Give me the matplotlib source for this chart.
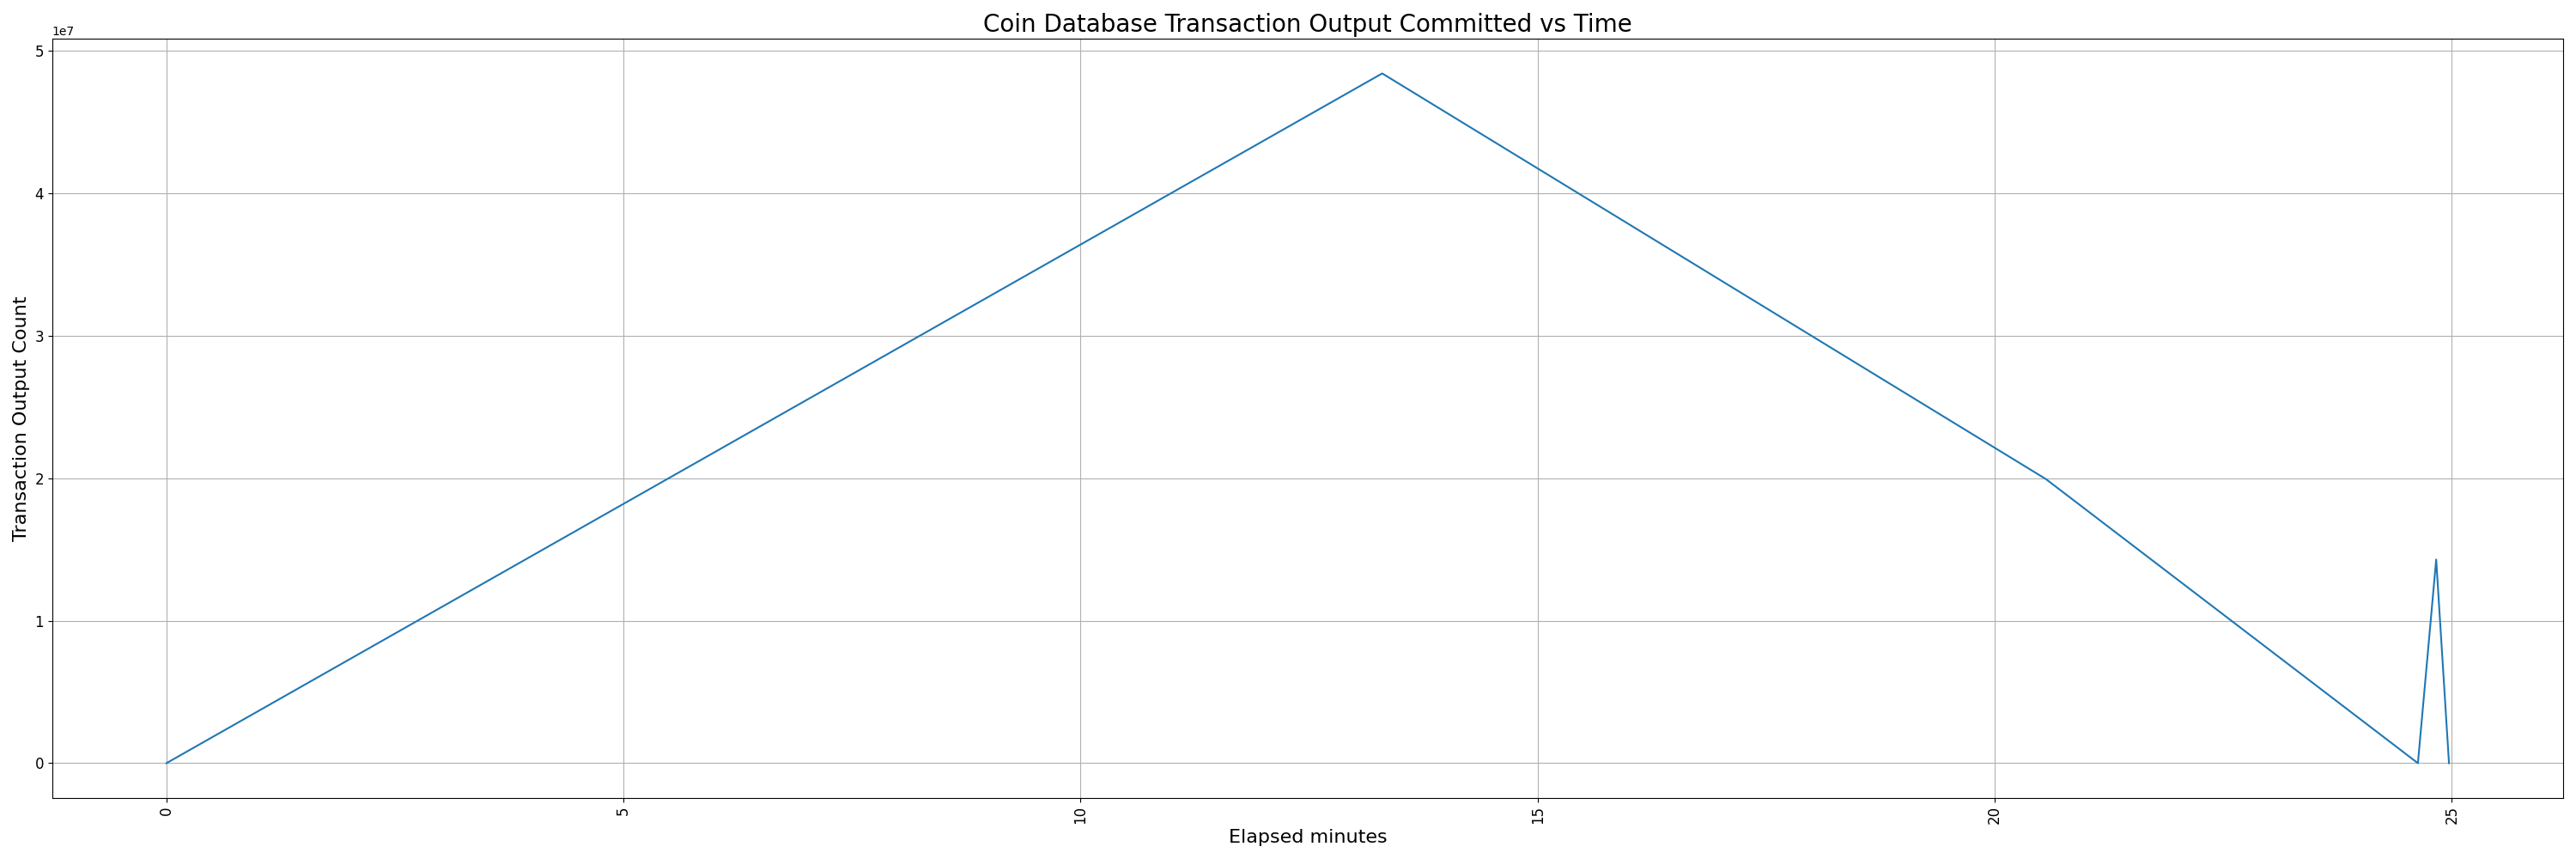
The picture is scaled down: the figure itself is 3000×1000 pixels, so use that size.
import matplotlib
matplotlib.use("Agg")
import matplotlib.pyplot as plt
import numpy as np

# elapsed minutes and committed output counts
elapsed_minutes = [0.0, 13.30, 20.56, 24.63, 24.83, 24.97]
output_count = [0.0, 4.843e7, 1.995e7, 0.0, 1.43e7, 0.0]

fig, ax = plt.subplots(figsize=(30, 10), dpi=100)
ax.plot(elapsed_minutes, output_count, color="#1f77b4", linewidth=1.5)
ax.set_title("Coin Database Transaction Output Committed vs Time", fontsize=20)
ax.set_xlabel("Elapsed minutes", fontsize=16)
ax.set_ylabel("Transaction Output Count", fontsize=16)
ax.tick_params(axis="x", labelrotation=90, labelsize=12)
ax.tick_params(axis="y", labelsize=12)
ax.yaxis.get_offset_text().set_fontsize(10)
ax.grid(True)
fig.tight_layout()
fig.savefig("out.png")
